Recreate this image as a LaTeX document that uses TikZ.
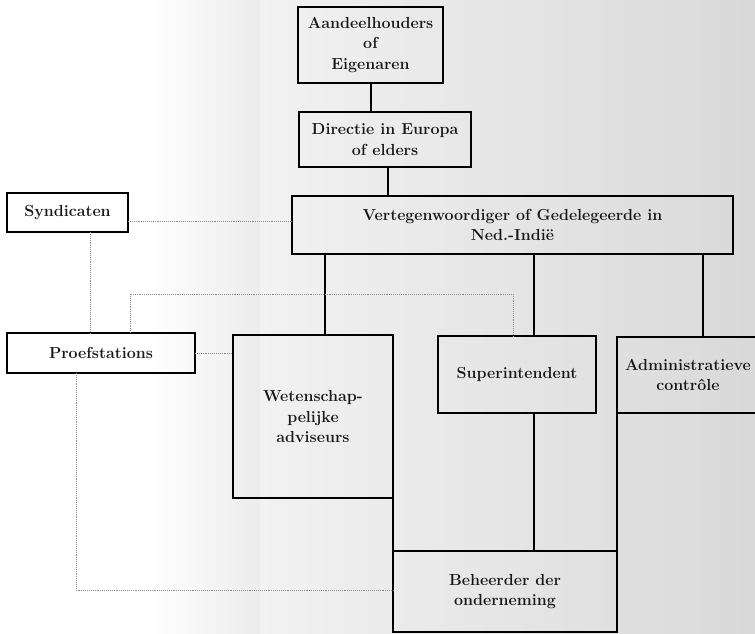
\documentclass[tikz,border=0pt]{standalone}
\usepackage{fontspec}
\begin{document}
\begin{tikzpicture}[x=1pt,y=-1pt,
  box/.style={draw=black, line width=1.6pt, rectangle, inner sep=0pt, outer sep=0pt,
    anchor=north west, align=center, text=black!90,
    font=\bfseries\fontsize{16}{20.5}\selectfont},
  link/.style={draw=black, line width=1.6pt},
  dot/.style={draw=black!45, line width=0.9pt, densely dotted}]
\useasboundingbox (0,0) rectangle (755,634);
\clip (0,0) rectangle (755,634);
\shade[left color=white, middle color=black!7, right color=black!15] (0,0) rectangle (755,634);
\fill[white] (0,0) rectangle (150,634);
\shade[left color=white, right color=black!7.5, draw=none] (150,0) rectangle (260,634);

\node[box, minimum width=145, minimum height=76] (aand) at (298,7) {Aandeelhouders\\of\\Eigenaren};
\node[box, minimum width=172, minimum height=55] (dir) at (299,112) {Directie in Europa\\of elders};
\node[box, minimum width=441, minimum height=58] (vert) at (292,196) {Vertegenwoordiger of Gedelegeerde in\\Ned.-Indië};
\node[box, minimum width=121, minimum height=39] (synd) at (7,193) {Syndicaten};
\node[box, minimum width=188, minimum height=40] (proef) at (7,333) {Proefstations};
\node[box, minimum width=160, minimum height=163] (wet) at (233,335) {Wetenschap-\\pelijke\\adviseurs};
\node[box, minimum width=158, minimum height=77] (sup) at (438,336) {Superintendent};
\node[box, minimum width=142, minimum height=76] (adm) at (617,337) {Administratieve\\contrôle};
\node[box, minimum width=224, minimum height=81] (beh) at (393,551) {Beheerder der\\onderneming};

\coordinate (ct) at (371,0);
\coordinate (cw) at (325,0);
\coordinate (cs) at (534,0);
\coordinate (ca) at (703,0);
\coordinate (cd) at (388,0);
\coordinate (d1) at (0,221);
\coordinate (d2) at (90,0);
\coordinate (d3) at (130,294);
\coordinate (d4) at (513,294);
\coordinate (d5) at (76,590);

\draw[link] (aand.south -| ct) -- (dir.north -| ct);
\draw[link] (dir.south -| cd) -- (vert.north -| cd);
\draw[link] (vert.south -| cw) -- (wet.north -| cw);
\draw[link] (vert.south -| cs) -- (sup.north -| cs);
\draw[link] (vert.south -| ca) -- (adm.north -| ca);
\draw[link] (sup.south -| cs) -- (beh.north -| cs);
\draw[link] (wet.south east) -- (beh.north west);
\draw[link] (adm.south west) -- (beh.north east);

\draw[dot] (synd.east |- d1) -- (vert.west |- d1);
\draw[dot] (synd.south -| d2) -- (proef.north -| d2);
\draw[dot] (proef.north -| d3) -- (d3) -- (d4) -- (d4 |- sup.north);
\draw[dot] (proef.east) -- (wet.west |- proef.east);
\draw[dot] (proef.south -| d5) -- (d5) -- (d5 -| beh.west);
\end{tikzpicture}
\end{document}
